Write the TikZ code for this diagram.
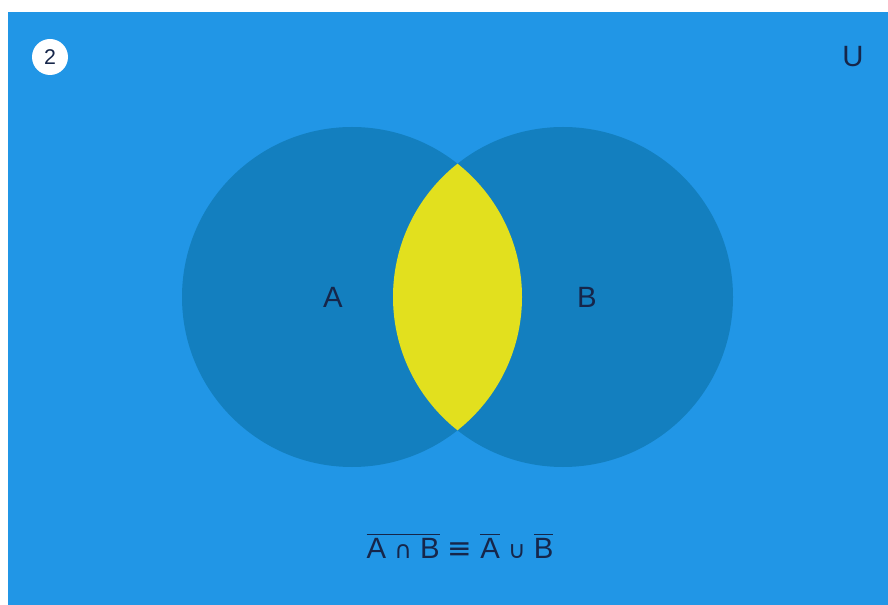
\documentclass[tikz,border=0pt]{standalone}
\usepackage{amsmath}
\usepackage{fontspec}
\setmainfont{Liberation Sans}
\newfontfamily\symfont{DejaVu Sans}
\usepackage{tikz}
\definecolor{sky}{HTML}{2196E6}
\definecolor{setblue}{HTML}{137FBF}
\definecolor{lens}{HTML}{E2E01E}
\definecolor{ink}{HTML}{16264A}
\tikzset{set/.style={fill=setblue},
  lab/.style={text=ink,font=\fontsize{22}{26}\selectfont,inner sep=0pt},
  badge/.style={circle,fill=white,minimum size=27pt,inner sep=0pt,text=ink,font=\fontsize{16}{18}\selectfont}}

\begin{document}
\begin{tikzpicture}[x=0.75pt,y=-0.75pt]
  \useasboundingbox (0,0) rectangle (888,605);
  \fill[sky] (8,12) rectangle (888,605);
  \fill[set] (352,297) circle (170);
  \fill[set] (563,297) circle (170);
  \begin{scope}
    \clip (352,297) circle (170);
    \fill[lens] (563,297) circle (170);
  \end{scope}
  \node[badge] (num) at (50,57) {2};
  \node[lab] (univ) at (853,57) {U};
  \node[lab] (setA) at (333,297) {A};
  \node[lab] (setB) at (587,297) {B};
  \node[lab] (law) at (460,546)
    {$\overline{\mbox{A {\symfont\fontsize{18}{20}\selectfont∩} B}}$ {\symfont≡} $\overline{\mbox{A}}$ {\symfont\fontsize{18}{20}\selectfont∪} $\overline{\mbox{B}}$};
\end{tikzpicture}
\end{document}
